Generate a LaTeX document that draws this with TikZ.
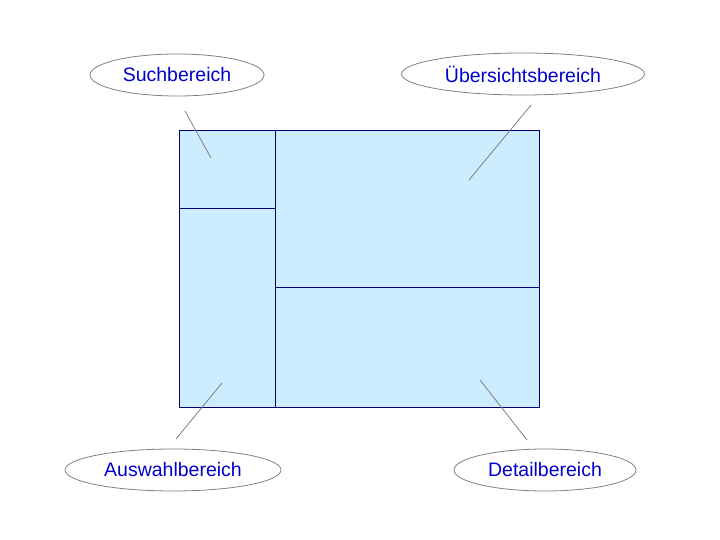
\documentclass[tikz,border=0pt]{standalone}
\usepackage{fontspec}
\setmainfont{Liberation Sans}
\usetikzlibrary{shapes.geometric}
\definecolor{areafill}{RGB}{204,236,255}
\definecolor{arealine}{RGB}{0,0,110}
\definecolor{labeltext}{RGB}{0,0,204}
\begin{document}
\begin{tikzpicture}[x=1pt,y=-1pt,
    area/.style={draw=arealine,line width=1pt},
    bubble/.style={ellipse,draw=gray,line width=0.8pt,minimum height=42pt,inner sep=0pt,
        text=labeltext,font=\fontsize{19.5}{22}\selectfont},
    pointer/.style={draw=gray,line width=0.8pt}]
    \useasboundingbox (0,0) rectangle (720,540);

    % screen areas
    \fill[areafill] (179,131) rectangle (539,407);
    \draw[area] (179,131) rectangle (539,407);
    \draw[area] (275,131) -- (275,407);
    \draw[area] (179,209) -- (275,209);
    \draw[area] (275,287) -- (539,287);

    % labels
    \node[bubble,minimum width=174pt] (such) at (177,75) {Suchbereich};
    \node[bubble,minimum width=243pt] (uebersicht) at (523,74) {Übersichtsbereich};
    \node[bubble,minimum width=216pt] (auswahl) at (173,470) {Auswahlbereich};
    \node[bubble,minimum width=182pt] (detail) at (545,470) {Detailbereich};

    \coordinate (such-a) at (185,111);      \coordinate (such-b) at (211,158);
    \coordinate (uebersicht-a) at (531,105); \coordinate (uebersicht-b) at (469,180);
    \coordinate (auswahl-a) at (176,439);   \coordinate (auswahl-b) at (222,383);
    \coordinate (detail-a) at (527,440);    \coordinate (detail-b) at (480,380);

    \draw[pointer] (such-a) -- (such-b);
    \draw[pointer] (uebersicht-a) -- (uebersicht-b);
    \draw[pointer] (auswahl-a) -- (auswahl-b);
    \draw[pointer] (detail-a) -- (detail-b);
\end{tikzpicture}
\end{document}
